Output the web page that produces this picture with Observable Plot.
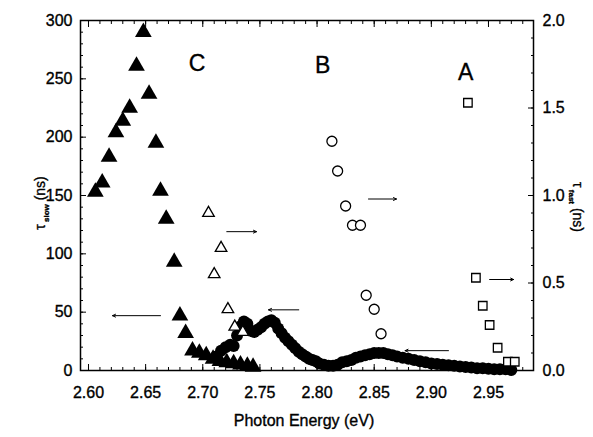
<!DOCTYPE html>
<html><head><meta charset="utf-8">
<script src="https://cdn.jsdelivr.net/npm/d3@7"></script>
<script src="https://cdn.jsdelivr.net/npm/@observablehq/plot@0.6"></script>
<style>
body{margin:0;background:#fff}
#chart{width:593px;height:437px;overflow:hidden}
#chart svg text{stroke:black;stroke-width:0.35px}
</style>
</head><body><div id="chart"></div>
<script>
// ---- Data ----
// C: tau_slow (filled triangles), left axis, ns
const cEnergy = [2.606, 2.612, 2.618, 2.624, 2.630, 2.636, 2.642, 2.648, 2.653, 2.659, 2.663, 2.668, 2.675, 2.680, 2.685, 2.691, 2.697, 2.703, 2.709, 2.715, 2.721, 2.727, 2.733, 2.739, 2.744];
const cSlow   = [153, 161, 183, 204, 214, 225, 261, 290, 237, 195, 154, 130, 93, 47, 32, 17, 15, 13, 10, 8, 7, 6, 5, 4, 3];
// C: tau_fast (open triangles), right axis, ns
const cFastEnergy = [2.705, 2.710, 2.716, 2.722, 2.728, 2.735];
const cFast       = [0.90, 0.55, 0.70, 0.35, 0.25, 0.22];
// B: tau_fast (open circles), right axis, ns
const bEnergy = [2.813, 2.818, 2.825, 2.831, 2.838, 2.843, 2.850, 2.856];
const bFast   = [1.31, 1.14, 0.94, 0.83, 0.83, 0.43, 0.35, 0.21];
// A: tau_fast (open squares), right axis, ns
const aEnergy = [2.932, 2.939, 2.945, 2.951, 2.958, 2.967, 2.973];
const aFast   = [1.53, 0.53, 0.37, 0.26, 0.13, 0.05, 0.05];
// tau_slow curve (filled circles), left axis, ns
const curveEnergy = [2.712, 2.716, 2.720, 2.724, 2.727, 2.730, 2.733, 2.736, 2.739, 2.742, 2.745, 2.748, 2.751, 2.754, 2.757, 2.760, 2.763, 2.766, 2.769, 2.772, 2.775, 2.778, 2.781, 2.784, 2.787, 2.790, 2.793, 2.796, 2.799, 2.802, 2.806, 2.810, 2.814, 2.818, 2.822, 2.826, 2.830, 2.834, 2.838, 2.842, 2.846, 2.850, 2.854, 2.858, 2.862, 2.866, 2.870, 2.875, 2.880, 2.885, 2.890, 2.895, 2.900, 2.905, 2.910, 2.915, 2.920, 2.925, 2.930, 2.935, 2.940, 2.945, 2.950, 2.955, 2.960, 2.965, 2.970];
const curveSlow   = [12, 17, 20, 22, 21, 30, 38, 42, 40, 34, 33, 35, 37, 40, 42, 43, 41, 36, 32, 28, 25, 22, 19, 16, 14, 12, 10, 9, 8, 6, 5, 4, 4, 5, 7, 8, 9, 11, 12, 13, 14, 15, 15, 15, 14, 13, 12, 11, 10, 9, 8, 7, 6, 5.5, 5, 4.5, 4, 3.5, 3, 2.5, 2, 2, 1.5, 1, 1, 1, 0.5];
// Arrows in data units (eV, ns on left axis)
const arrowX1 = [2.663, 2.721, 2.784, 2.845, 2.915, 2.951];
const arrowX2 = [2.621, 2.747, 2.7575, 2.8695, 2.877, 2.972];
const arrowY  = [47, 119, 52, 147, 17, 78];
// Group labels
const groupLabels = ["C", "B", "A"];
const groupLabelX = [2.695, 2.805, 2.930];
const groupLabelY = [263, 261, 255];
// Tick values
const xMajorTicks = [2.60, 2.65, 2.70, 2.75, 2.80, 2.85, 2.90, 2.95];
const xMinorTicks = d3.range(2.60, 2.985, 0.01);
const yLeftMajor = [0, 50, 100, 150, 200, 250, 300];
const yLeftMinor = d3.range(0, 301, 10);
const yRightMajor = [0.0, 0.5, 1.0, 1.5, 2.0];
const yRightMinor = d3.range(0, 2.001, 0.1);
const rightFactor = 150; // 2.0 ns on the right = 300 ns on the left

// ---- Tables ----
const cRows = cEnergy.map((e, i) => ({e, v: cSlow[i]}));
const cfRows = cFastEnergy.map((e, i) => ({e, v: cFast[i]}));
const bRows = bEnergy.map((e, i) => ({e, v: bFast[i]}));
const aRows = aEnergy.map((e, i) => ({e, v: aFast[i]}));
const curveRows = curveEnergy.map((e, i) => ({e, v: curveSlow[i]}));
const arrowRows = arrowX1.map((x1, i) => ({x1, x2: arrowX2[i], y: arrowY[i]}));
const labelRows = groupLabels.map((t, i) => ({t, x: groupLabelX[i], y: groupLabelY[i]}));

const chart = Plot.plot({
  width: 593, height: 437,
  marginLeft: 80, marginRight: 60, marginTop: 20, marginBottom: 67,
  style: {fontFamily: "'Liberation Sans', Arial, sans-serif", fontSize: "16px", color: "black", background: "white", overflow: "visible"},
  x: {domain: [2.593, 2.9894]},
  y: {domain: [0, 300]},
  marks: [
    Plot.axisX({anchor: "bottom", ticks: xMajorTicks, tickSize: -6, tickPadding: 22, tickFormat: d3.format(".2f"), label: null, fontSize: 16}),
    Plot.axisX({anchor: "bottom", ticks: xMinorTicks, tickSize: -3, fill: "none", label: null}),
    Plot.axisX({anchor: "top", ticks: xMajorTicks, tickSize: -6, fill: "none", label: null}),
    Plot.axisX({anchor: "top", ticks: xMinorTicks, tickSize: -3, fill: "none", label: null}),
    Plot.axisY({anchor: "left", ticks: yLeftMajor, tickSize: -6, tickPadding: 14, label: null, fontSize: 16}),
    Plot.axisY({anchor: "left", ticks: yLeftMinor, tickSize: -3, fill: "none", label: null}),
    Plot.axisY({anchor: "right", ticks: yRightMajor.map(v => v * rightFactor), tickSize: -6, tickPadding: 15, tickFormat: d => (d / rightFactor).toFixed(1), label: null, fontSize: 16}),
    Plot.axisY({anchor: "right", ticks: yRightMinor.map(v => v * rightFactor), tickSize: -3, fill: "none", label: null}),
    Plot.frame({stroke: "black", strokeWidth: 1.5}),
    Plot.dot(curveRows, {x: "e", y: "v", r: 6, fill: "black", stroke: "none"}),
    Plot.dot(cRows, {x: "e", y: "v", symbol: "triangle", r: 6.2, fill: "black", stroke: "none"}),
    Plot.dot(cfRows, {x: "e", y: d => d.v * rightFactor, symbol: "triangle", r: 4.3, fill: "white", stroke: "black", strokeWidth: 1.3}),
    Plot.dot(bRows, {x: "e", y: d => d.v * rightFactor, symbol: "circle", r: 5, fill: "white", stroke: "black", strokeWidth: 1.3}),
    Plot.dot(aRows, {x: "e", y: d => d.v * rightFactor, symbol: "square", r: 4.8, fill: "white", stroke: "black", strokeWidth: 1.3}),
    Plot.arrow(arrowRows, {x1: "x1", x2: "x2", y1: "y", y2: "y", stroke: "black", strokeWidth: 1, headLength: 5, headAngle: 50}),
    Plot.text(labelRows, {x: "x", y: "y", text: "t", fontSize: 23, fill: "black"})
  ]
});
document.getElementById("chart").appendChild(chart);

const svg = d3.select(chart);
const ff = "'Liberation Sans', Arial, sans-serif";
svg.append("text").attr("x", 304).attr("y", 426).attr("text-anchor", "middle")
  .attr("font-family", ff).attr("font-size", 16).attr("fill", "black").text("Photon Energy (eV)");
const lt = svg.append("text").attr("transform", "translate(45,203) rotate(-90)").attr("text-anchor", "middle")
  .attr("font-family", ff).attr("font-size", 14).attr("fill", "black");
lt.append("tspan").text("τ");
lt.append("tspan").attr("font-size", 8).attr("font-weight", "bold").attr("dy", 4).text(" slow");
lt.append("tspan").attr("dy", -4).text(" (ns)");
const rt = svg.append("text").attr("transform", "translate(573,207) rotate(90)").attr("text-anchor", "middle")
  .attr("font-family", ff).attr("font-size", 14).attr("fill", "black");
rt.append("tspan").text("τ");
rt.append("tspan").attr("font-size", 8).attr("font-weight", "bold").attr("dy", 4).text(" fast");
rt.append("tspan").attr("dy", -4).text(" (ns)");
</script>
</body></html>
